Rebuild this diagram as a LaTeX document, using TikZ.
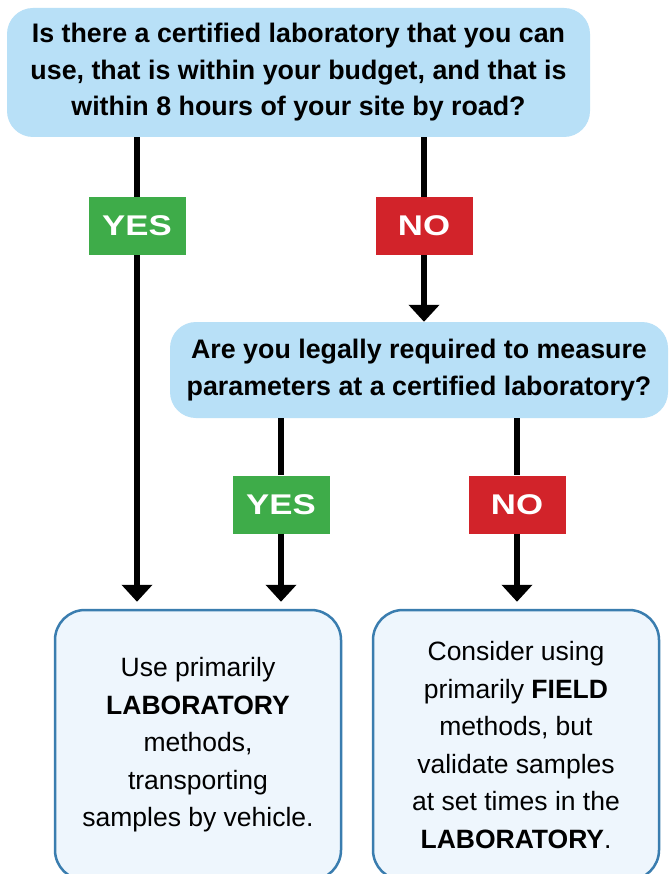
\documentclass[tikz,border=0pt]{standalone}
\usepackage{fontspec}
\setmainfont{Liberation Sans}
\usetikzlibrary{arrows.meta}
\definecolor{qblue}{RGB}{184,224,247}
\definecolor{ygreen}{RGB}{62,172,73}
\definecolor{nred}{RGB}{210,35,42}
\definecolor{rfill}{RGB}{238,246,253}
\definecolor{rborder}{RGB}{58,125,175}
\begin{document}
\begin{tikzpicture}[x=1pt,y=-1pt,
  qbox/.style={fill=qblue, rounded corners=26pt, align=center, inner sep=0pt,
    font=\fontsize{26.8}{36.5}\selectfont\bfseries},
  lab/.style={minimum width=97pt, minimum height=58pt, inner sep=0pt, text=white,
    font=\fontsize{28.5}{30}\selectfont\bfseries},
  yesbox/.style={lab, fill=ygreen},
  nobox/.style={lab, fill=nred},
  resbox/.style={draw=rborder, line width=2.5pt, fill=rfill, rounded corners=30pt,
    minimum width=286pt, minimum height=270pt, align=center, inner sep=0pt,
    font=\fontsize{26.5}{37.5}\selectfont},
  conn/.style={line width=6pt},
  arr/.style={conn, -{Triangle[width=30pt,length=17pt]}}]
\useasboundingbox (0,0) rectangle (669,874);
\clip (0,0) rectangle (669,874);
\fill[white] (0,0) rectangle (669,874);
\node[qbox, minimum width=583pt, minimum height=129pt] (top) at (298.5,72.5)
  {Is there a certified laboratory that you can\\use, that is within your budget, and that is\\within 8 hours of your site by road?};
\node[qbox, minimum width=498pt, minimum height=96pt] (q2) at (419,370)
  {Are you legally required to measure\\parameters at a certified laboratory?};
\node[yesbox] (y1) at (137,226) {\scalebox{1.22}[1]{YES}};
\node[nobox] (n1) at (424,226) {\scalebox{1.22}[1]{NO}};
\node[yesbox] (y2) at (281,504.5) {\scalebox{1.22}[1]{YES}};
\node[nobox] (n2) at (517,504.5) {\scalebox{1.22}[1]{NO}};
\node[resbox] (r1) at (198,745)
  {Use primarily\\\textbf{LABORATORY}\\methods,\\transporting\\samples by vehicle.};
\node[resbox] (r2) at (516,745)
  {Consider using\\primarily \textbf{FIELD}\\methods, but\\validate samples\\at set times in the\\\textbf{LABORATORY}.};
\draw[conn] (top.south -| y1) -- (y1);
\draw[arr, shorten >=7pt] (y1) -- (r1.north -| y1);
\draw[conn] (top.south -| n1) -- (n1);
\draw[arr] (n1) -- (q2.north -| n1);
\draw[conn] (q2.south -| y2) -- (y2);
\draw[arr, shorten >=7pt] (y2) -- (r1.north -| y2);
\draw[conn] (q2.south -| n2) -- (n2);
\draw[arr, shorten >=7pt] (n2) -- (r2.north -| n2);
\end{tikzpicture}
\end{document}
